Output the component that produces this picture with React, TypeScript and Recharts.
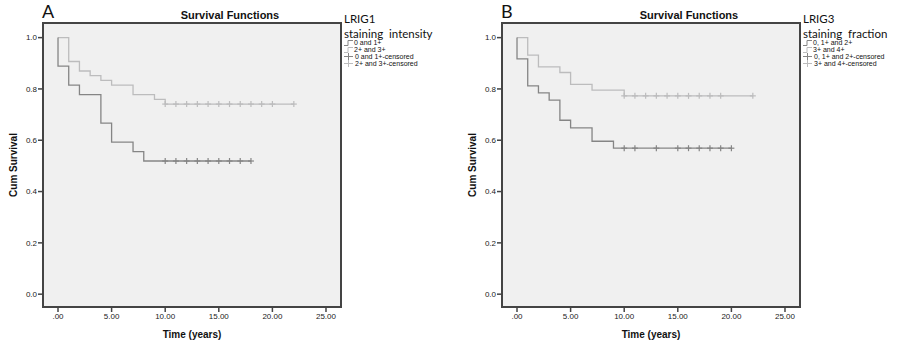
import React from 'react';
import { ComposedChart, Line, Scatter, XAxis, YAxis, CartesianGrid, Label, ReferenceArea } from 'recharts';

// ---- Panel A: LRIG1 staining intensity ----
const aLowTimes = [0, 0, 1, 2, 4, 5, 7, 8, 18];
const aLowSurv = [1.0, 0.889, 0.815, 0.778, 0.667, 0.593, 0.556, 0.519, 0.519];
const aLowCensorTimes = [10, 11, 12, 13, 14, 15, 16, 17, 18];

const aHighTimes = [0, 1, 2, 3, 4, 5, 7, 9, 10, 22];
const aHighSurv = [1.0, 0.907, 0.870, 0.852, 0.833, 0.815, 0.778, 0.759, 0.741, 0.741];
const aHighCensorTimes = [10, 11, 12, 13, 14, 15, 16, 17, 18, 19, 20, 22];

// ---- Panel B: LRIG3 staining fraction ----
const bLowTimes = [0, 0, 1, 2, 3, 4, 5, 7, 9, 20];
const bLowSurv = [1.0, 0.917, 0.812, 0.785, 0.756, 0.678, 0.648, 0.596, 0.569, 0.569];
const bLowCensorTimes = [10, 11, 13, 15, 16, 17, 18, 19, 20];

const bHighTimes = [0, 1, 2, 4, 5, 7, 10, 22];
const bHighSurv = [1.0, 0.932, 0.886, 0.864, 0.818, 0.795, 0.773, 0.773];
const bHighCensorTimes = [10, 11, 12, 13, 14, 15, 16, 17, 18, 19, 22];

const xTicks = [0, 5, 10, 15, 20, 25];
const yTicks = [0, 0.2, 0.4, 0.6, 0.8, 1.0];

const panelLetters = ['A', 'B'];
const legendTitlesA = ['LRIG1', 'staining  intensity'];
const legendTitlesB = ['LRIG3', 'staining  fraction'];
const legendItemsA = ['0 and 1+', '2+ and 3+', '0 and 1+-censored', '2+ and 3+-censored'];
const legendItemsB = ['0, 1+ and 2+', '3+ and 4+', '0, 1+ and 2+-censored', '3+ and 4+-censored'];

const X_DOMAIN: [number, number] = [-1.4, 26.4];
const Y_DOMAIN: [number, number] = [-0.05, 1.057];

const DARK = '#858585';
const LIGHT = '#bcbcbd';
const AXIS = '#444444';

const toPoints = (t: number[], s: number[]) => t.map((x, i) => ({ x, y: s[i] }));
const censorPoints = (times: number[], t: number[], s: number[]) =>
  times.map((c) => {
    let v = s[0];
    for (let i = 0; i < t.length; i++) if (t[i] <= c) v = s[i];
    return { x: c, y: v };
  });

const fmtX = (v: number) => (v === 0 ? '.00' : v.toFixed(2));
const fmtY = (v: number) => v.toFixed(1);

const CensorMark = (color: string) => (props: any) => {
  const { cx, cy } = props;
  if (cx == null || cy == null) return <g />;
  return (
    <g>
      <line x1={cx} x2={cx} y1={cy - 3} y2={cy + 3} stroke={color} strokeWidth={1.2} />
      <line x1={cx - 3} x2={cx + 3} y1={cy} y2={cy} stroke={color} strokeWidth={1.2} />
    </g>
  );
};

const StepIcon = ({ color }: { color: string }) => (
  <svg width={9} height={6} style={{ display: 'block' }}>
    <polyline points="0,5.5 4,5.5 4,0.5 9,0.5" fill="none" stroke={color} strokeWidth={1} />
  </svg>
);
const CrossIcon = ({ color }: { color: string }) => (
  <svg width={9} height={7} style={{ display: 'block' }}>
    <line x1={0} x2={9} y1={3.5} y2={3.5} stroke={color} strokeWidth={1} />
    <line x1={4.5} x2={4.5} y1={0} y2={7} stroke={color} strokeWidth={1} />
  </svg>
);

type PanelProps = {
  left: number;
  letter: string;
  lowT: number[];
  lowS: number[];
  lowC: number[];
  highT: number[];
  highS: number[];
  highC: number[];
  legendTitles: string[];
  legendItems: string[];
};

const Panel = (p: PanelProps) => {
  const lowData = toPoints(p.lowT, p.lowS);
  const highData = toPoints(p.highT, p.highS);
  const lowCens = censorPoints(p.lowC, p.lowT, p.lowS);
  const highCens = censorPoints(p.highC, p.highT, p.highS);
  const tickStyle = { fontFamily: 'Liberation Sans, Arial, sans-serif', fontSize: 8, fill: '#222' };
  return (
    <div style={{ position: 'absolute', left: p.left, top: 0, width: 442, height: 344 }}>
      <ComposedChart width={442} height={344} margin={{ top: 23, right: 101, bottom: 0, left: 0 }}>
        <CartesianGrid fill="#f0f0f0" horizontal={false} vertical={false} />
        <XAxis
          xAxisId="b"
          type="number"
          dataKey="x"
          domain={X_DOMAIN}
          ticks={xTicks}
          tickFormatter={fmtX}
          allowDataOverflow
          height={37}
          tickSize={5}
          tickMargin={1}
          tick={tickStyle}
          axisLine={{ stroke: AXIS, strokeWidth: 2 }}
          tickLine={{ stroke: AXIS, strokeWidth: 1.5 }}
        >
          <Label
            value="Time (years)"
            position="insideBottom"
            offset={6}
            style={{ fontFamily: 'Liberation Sans, Arial, sans-serif', fontSize: 10, fontWeight: 'bold', fill: '#111' }}
          />
        </XAxis>
        <YAxis
          yAxisId="l"
          type="number"
          domain={Y_DOMAIN}
          ticks={yTicks}
          tickFormatter={fmtY}
          allowDataOverflow
          width={43}
          tickSize={5}
          tickMargin={1}
          tick={tickStyle}
          axisLine={{ stroke: AXIS, strokeWidth: 2 }}
          tickLine={{ stroke: AXIS, strokeWidth: 1.5 }}
        >
          <Label
            value="Cum Survival"
            angle={-90}
            position="center"
            dx={-8}
            style={{ fontFamily: 'Liberation Sans, Arial, sans-serif', fontSize: 10, fontWeight: 'bold', fill: '#111', textAnchor: 'middle' }}
          />
        </YAxis>
        <ReferenceArea
          xAxisId="b"
          yAxisId="l"
          x1={X_DOMAIN[0]}
          x2={X_DOMAIN[1]}
          y1={Y_DOMAIN[0]}
          y2={Y_DOMAIN[1]}
          fill="none"
          fillOpacity={0}
          stroke={AXIS}
          strokeWidth={2}
          ifOverflow="visible"
        />
        <Line xAxisId="b" yAxisId="l" data={highData} dataKey="y" type="stepAfter" stroke={LIGHT} strokeWidth={1.3} dot={false} isAnimationActive={false} />
        <Line xAxisId="b" yAxisId="l" data={lowData} dataKey="y" type="stepAfter" stroke={DARK} strokeWidth={1.3} dot={false} isAnimationActive={false} />
        <Scatter xAxisId="b" yAxisId="l" data={highCens} dataKey="y" shape={CensorMark(LIGHT)} isAnimationActive={false} />
        <Scatter xAxisId="b" yAxisId="l" data={lowCens} dataKey="y" shape={CensorMark(DARK)} isAnimationActive={false} />
      </ComposedChart>
      <div style={{ position: 'absolute', left: 42, top: 1, fontFamily: 'Lato, sans-serif', fontSize: 18, color: '#111', lineHeight: '20px' }}>{p.letter}</div>
      <div style={{ position: 'absolute', left: 120, width: 220, textAlign: 'center', top: 9, fontFamily: 'Liberation Sans, Arial, sans-serif', fontSize: 11, fontWeight: 'bold', color: '#111', lineHeight: '12px' }}>Survival Functions</div>
      <div style={{ position: 'absolute', left: 344, top: 12, fontFamily: 'Lato, sans-serif', fontSize: 11.5, color: '#111', lineHeight: '13px', whiteSpace: 'pre' }}>
        <div>{p.legendTitles[0]}</div>
        <div style={{ marginTop: 2 }}>{p.legendTitles[1]}</div>
      </div>
      <div style={{ position: 'absolute', left: 344, top: 39, fontFamily: 'Liberation Sans, Arial, sans-serif', fontSize: 7, color: '#111', lineHeight: '7px' }}>
        {p.legendItems.map((t, i) => (
          <div key={t} style={{ display: 'flex', alignItems: 'center', height: 7 }}>
            <div style={{ width: 10 }}>
              {i < 2 ? <StepIcon color={i === 0 ? DARK : LIGHT} /> : <CrossIcon color={i === 2 ? DARK : LIGHT} />}
            </div>
            <span style={{ marginLeft: i < 2 ? 0 : 1, lineHeight: '7px' }}>{t}</span>
          </div>
        ))}
      </div>
    </div>
  );
};

export default function App() {
  return (
    <div style={{ position: 'absolute', left: 0, top: 0, width: 901, height: 344, background: '#fff' }}>
      <Panel
        left={0}
        letter={panelLetters[0]}
        lowT={aLowTimes}
        lowS={aLowSurv}
        lowC={aLowCensorTimes}
        highT={aHighTimes}
        highS={aHighSurv}
        highC={aHighCensorTimes}
        legendTitles={legendTitlesA}
        legendItems={legendItemsA}
      />
      <Panel
        left={459}
        letter={panelLetters[1]}
        lowT={bLowTimes}
        lowS={bLowSurv}
        lowC={bLowCensorTimes}
        highT={bHighTimes}
        highS={bHighSurv}
        highC={bHighCensorTimes}
        legendTitles={legendTitlesB}
        legendItems={legendItemsB}
      />
    </div>
  );
}
